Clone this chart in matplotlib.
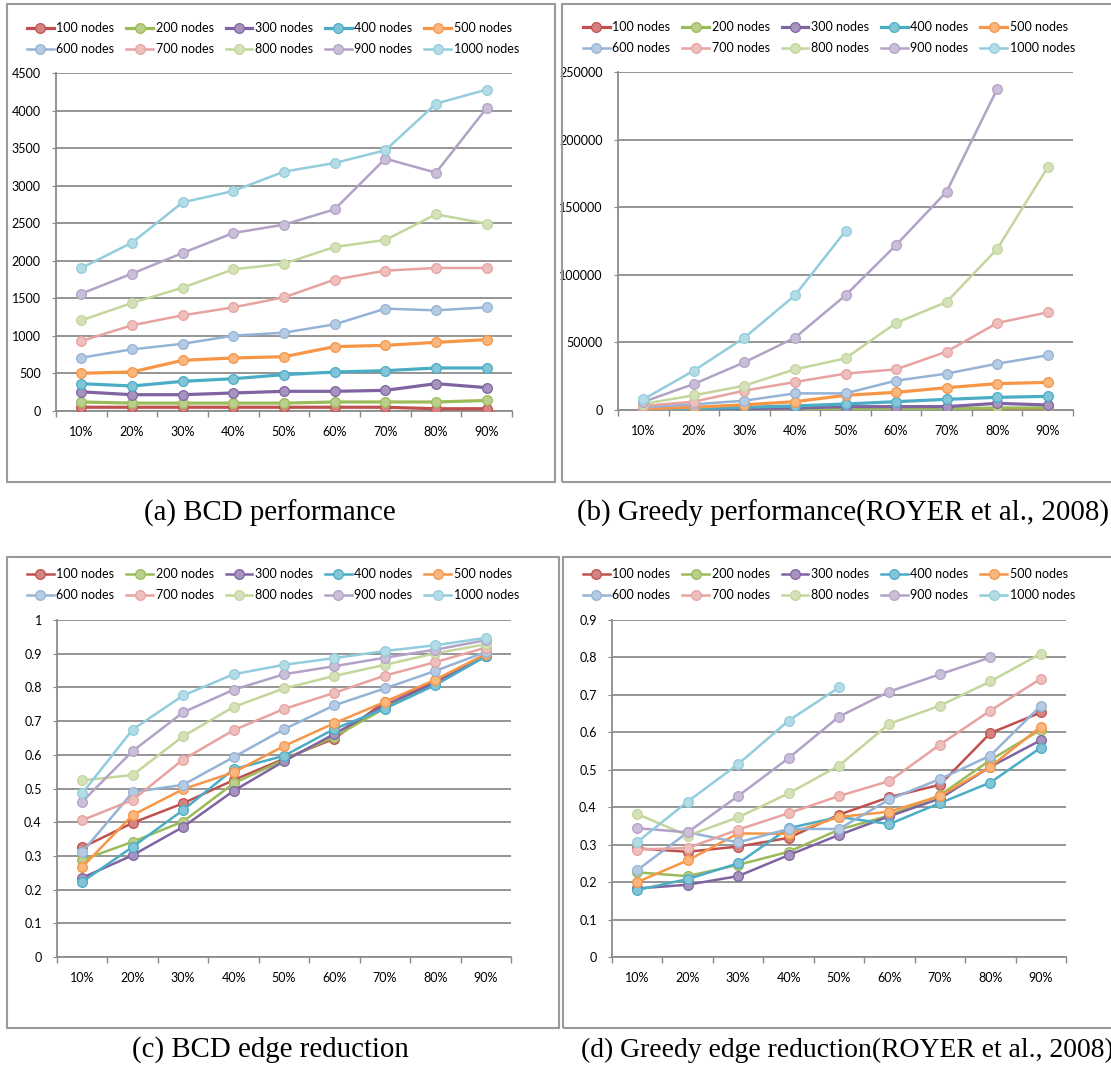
import numpy as np
import matplotlib
matplotlib.use("Agg")
import matplotlib.pyplot as plt
from matplotlib.colors import to_rgb
from matplotlib.patches import Rectangle

nan = np.nan
categories = ["10%", "20%", "30%", "40%", "50%", "60%", "70%", "80%", "90%"]
series_names = ["100 nodes", "200 nodes", "300 nodes", "400 nodes", "500 nodes",
                "600 nodes", "700 nodes", "800 nodes", "900 nodes", "1000 nodes"]
colors = ["#C0504D", "#9BBB59", "#8064A2", "#4BACC6", "#F79646",
          "#95B3D7", "#E6A3A1", "#C3D69B", "#B3A2C7", "#93CDDD"]

# (a) BCD performance
bcd_perf = [
    [50, 50, 50, 50, 50, 50, 50, 30, 30],
    [120, 105, 105, 105, 105, 120, 120, 120, 140],
    [255, 217, 217, 240, 262, 262, 275, 364, 311],
    [364, 333, 395, 430, 484, 519, 537, 573, 573],
    [502, 520, 675, 706, 723, 857, 874, 914, 950],
    [710, 821, 895, 1003, 1043, 1154, 1363, 1340, 1380],
    [932, 1141, 1274, 1380, 1513, 1749, 1869, 1904, 1904],
    [1207, 1438, 1642, 1886, 1962, 2184, 2277, 2619, 2494],
    [1562, 1829, 2104, 2370, 2481, 2685, 3360, 3173, 4034],
    [1904, 2241, 2778, 2929, 3187, 3302, 3471, 4092, 4279],
]
# (b) Greedy performance
greedy_perf = [
    [50, 80, 100, 150, 200, 250, 300, 400, 400],
    [100, 200, 300, 500, 700, 800, 1000, 1500, 1500],
    [300, 600, 1000, 1500, 2465, 2500, 2500, 4930, 3700],
    [500, 1000, 2000, 3000, 4440, 6160, 7890, 9370, 10110],
    [1000, 2000, 3900, 6160, 10850, 13070, 16520, 19480, 20460],
    [2000, 4200, 6900, 12300, 12300, 21700, 26900, 34270, 40430],
    [3000, 6160, 14300, 20700, 26900, 30080, 43150, 64350, 72240],
    [4500, 10850, 18000, 30080, 38200, 64350, 79900, 119100, 179500],
    [6000, 19230, 35260, 53500, 84800, 122000, 161500, 237400, nan],
    [7890, 29100, 53500, 84800, 132400, nan, nan, nan, nan],
]
# (c) BCD edge reduction
bcd_edge = [
    [0.325, 0.398, 0.456, 0.525, 0.588, 0.648, 0.758, 0.815, 0.894],
    [0.288, 0.342, 0.402, 0.515, 0.585, 0.654, 0.738, 0.812, 0.895],
    [0.235, 0.302, 0.386, 0.493, 0.581, 0.662, 0.747, 0.814, 0.893],
    [0.223, 0.327, 0.436, 0.557, 0.597, 0.677, 0.737, 0.807, 0.892],
    [0.267, 0.421, 0.498, 0.548, 0.626, 0.694, 0.757, 0.823, 0.899],
    [0.311, 0.489, 0.511, 0.593, 0.676, 0.747, 0.797, 0.849, 0.905],
    [0.406, 0.466, 0.586, 0.673, 0.736, 0.784, 0.835, 0.875, 0.918],
    [0.524, 0.540, 0.655, 0.742, 0.797, 0.834, 0.867, 0.901, 0.928],
    [0.461, 0.611, 0.726, 0.793, 0.839, 0.863, 0.888, 0.912, 0.940],
    [0.486, 0.675, 0.776, 0.839, 0.867, 0.887, 0.908, 0.925, 0.947],
]
# (d) Greedy edge reduction
greedy_edge = [
    [0.290, 0.281, 0.295, 0.318, 0.380, 0.427, 0.460, 0.598, 0.653],
    [0.226, 0.216, 0.246, 0.281, 0.340, 0.378, 0.432, 0.526, 0.607],
    [0.183, 0.193, 0.216, 0.272, 0.326, 0.376, 0.423, 0.508, 0.579],
    [0.179, 0.208, 0.250, 0.344, 0.374, 0.355, 0.411, 0.466, 0.559],
    [0.200, 0.258, 0.330, 0.329, 0.374, 0.388, 0.430, 0.508, 0.615],
    [0.232, 0.333, 0.306, 0.342, 0.342, 0.421, 0.475, 0.538, 0.671],
    [0.287, 0.291, 0.340, 0.384, 0.430, 0.470, 0.567, 0.658, 0.743],
    [0.382, 0.324, 0.373, 0.437, 0.511, 0.623, 0.671, 0.736, 0.810],
    [0.344, 0.333, 0.430, 0.531, 0.642, 0.709, 0.755, 0.800, nan],
    [0.307, 0.415, 0.515, 0.631, 0.720, nan, nan, nan, nan],
]

panel_titles = ["(a) BCD performance",
                "(b) Greedy performance(ROYER et al., 2008)",
                "(c) BCD edge reduction",
                "(d) Greedy edge reduction(ROYER et al., 2008)"]
yticks_list = [np.arange(0, 4501, 500), np.arange(0, 250001, 50000),
               np.round(np.arange(0, 1.001, 0.1), 1), np.round(np.arange(0, 0.901, 0.1), 1)]

W, H = 1111, 1074
fig = plt.figure(figsize=(W / 100, H / 100), dpi=100)
fig.patch.set_facecolor("white")

def frac_rect(x0, y0, x1, y1):
    return [x0 / W, 1 - y1 / H, (x1 - x0) / W, (y1 - y0) / H]

axes_px = [(56, 73, 512, 411), (618, 72, 1073, 410),
           (57, 620, 511, 957), (612, 620, 1066, 957)]
boxes_px = [(7, 4, 555, 482), (562, 4, 1115, 482),
            (7, 557, 559, 1028), (563, 557, 1115, 1028)]
legend_px = [(27, 22), (583, 21), (27, 568), (583, 568)]
# (x, y, horizontal alignment, font size)
caption_px = [(270, 513, "center", 20.8), (843, 513, "center", 20.8),
              (270, 1050, "center", 20.8), (581, 1050, "left", 19.9)]

def lighten(c, f):
    r, g, b = to_rgb(c)
    return (r + (1 - r) * f, g + (1 - g) * f, b + (1 - b) * f)

font = "Lato"
fs = 9
datasets = [bcd_perf, greedy_perf, bcd_edge, greedy_edge]

for k in range(4):
    bx = boxes_px[k]
    fig.patches.append(Rectangle((bx[0] / W, 1 - bx[3] / H), (bx[2] - bx[0]) / W,
                                 (bx[3] - bx[1]) / H, transform=fig.transFigure,
                                 fill=False, edgecolor="#9a9a9a", linewidth=1.5))
    ax = fig.add_axes(frac_rect(*axes_px[k]))
    data = datasets[k]
    x = np.arange(len(categories))
    handles = []
    for i, (name, vals) in enumerate(zip(series_names, data)):
        lw = 2.3 if (i < 5 and k < 2) else 1.8
        h, = ax.plot(x, vals, color=colors[i], lw=lw, marker="o", markersize=7,
                     markerfacecolor=lighten(colors[i], 0.3),
                     markeredgecolor=colors[i], markeredgewidth=0.9,
                     label=name, zorder=3 + i * 0.01)
        handles.append(h)
    yt = yticks_list[k]
    ax.set_ylim(yt[0], yt[-1])
    ax.set_yticks(yt)
    if k >= 2:
        ax.set_yticklabels(["0" if v == 0 else ("1" if v == 1 else f"{v:g}") for v in yt])
    else:
        ax.set_yticklabels([f"{int(v)}" for v in yt])
    ax.set_xlim(-0.5, len(categories) - 0.5)
    ax.set_xticks(x)
    ax.set_xticklabels(categories)
    ax.set_xticks(np.arange(-0.5, len(categories)), minor=True)
    ax.tick_params(axis="x", which="major", length=0, pad=11, labelsize=fs)
    ax.tick_params(axis="x", which="minor", length=4, color="#888888", direction="out", width=1)
    ax.tick_params(axis="y", length=3, color="#888888", labelsize=fs, pad=8)
    for lab in ax.get_xticklabels() + ax.get_yticklabels():
        lab.set_fontfamily(font)
    ax.grid(axis="y", color="#8c8c8c", lw=1.3)
    ax.set_axisbelow(True)
    for s in ["top", "right"]:
        ax.spines[s].set_visible(False)
    for s in ["left", "bottom"]:
        ax.spines[s].set_color("#8c8c8c")
        ax.spines[s].set_linewidth(1.3)
    order = [0, 5, 1, 6, 2, 7, 3, 8, 4, 9]
    lx, ly = legend_px[k]
    leg = ax.legend([handles[j] for j in order], [series_names[j] for j in order],
                    ncol=5, loc="upper left", bbox_to_anchor=(lx / W, 1 - ly / H),
                    bbox_transform=fig.transFigure, frameon=False, borderpad=0,
                    borderaxespad=0, handlelength=2.15, handletextpad=0.2,
                    columnspacing=0.95, labelspacing=0.72,
                    prop={"family": font, "size": fs})
    cx, cy, ha, cfs = caption_px[k]
    fig.text(cx / W, 1 - cy / H, panel_titles[k], ha=ha, va="center",
             family="Liberation Serif", fontsize=cfs)

fig.savefig("out.png", dpi=100, facecolor="white")
